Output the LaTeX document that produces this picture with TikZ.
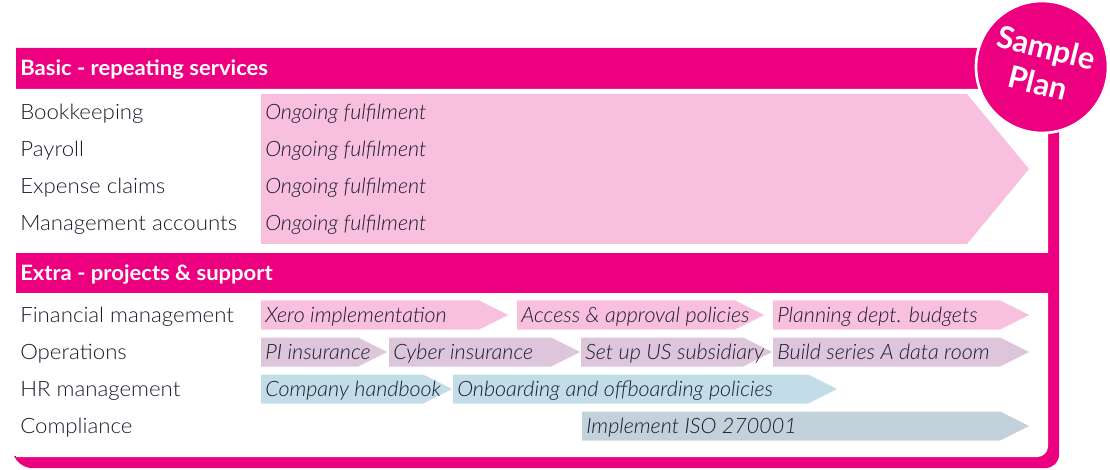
\documentclass[tikz,border=0pt]{standalone}
\usepackage{fontspec}
\setmainfont{Lato Light}[ItalicFont={Lato Light Italic},BoldFont={Lato Bold},FakeStretch=1.05,ItalicFeatures={FakeStretch=1.015}]
\newfontfamily\headfont{Lato Bold}[FakeStretch=1.04]
\newfontfamily\badgefont{Lato Bold}
\definecolor{mag}{HTML}{EC0080}
\definecolor{lpink}{HTML}{F8BFDE}
\definecolor{lav}{HTML}{DDC6DB}
\definecolor{lblue}{HTML}{C3DDE8}
\definecolor{gblue}{HTML}{C3D2DA}
\definecolor{ink}{HTML}{1C1C2C}
\tikzset{
  rowlabel/.style={anchor=base west,inner sep=0pt,text=ink,font=\fontsize{15.9}{18}\selectfont},
  arrtext/.style={anchor=base west,inner sep=0pt,text=ink,font=\fontsize{15.9}{18}\selectfont\itshape},
  headtext/.style={anchor=base west,inner sep=0pt,text=white,font=\fontsize{15.9}{18}\selectfont\headfont},
}
% name, left, tip, centre y, colour, text
\newcommand\chev[6]{%
  \fill[#5] (#2,#4-14.5) -- (#3-29,#4-14.5) -- (#3,#4) -- (#3-29,#4+14.5) -- (#2,#4+14.5) -- cycle;
  \node[arrtext] (#1) at (#2+4,#4+7) {#6};}
\begin{document}
\begin{tikzpicture}[x=0.75pt,y=-0.75pt]
\useasboundingbox (0,0) rectangle (1110,470);
% frame
\fill[mag] (16,48) -- (1059,48) [rounded corners=10] -- (1059,468) [sharp corners] -- (30,468) .. controls (21,466) and (17,462) .. (14,456) -- (16,456) -- cycle;
\fill[white] (16,89) -- (1048,89) [rounded corners=8] -- (1048,457) [sharp corners] -- (16,457) -- cycle;
\fill[mag] (16,253) rectangle (1059,293);
% headers
\node[headtext] (h1) at (20,76) {Basic - repeating services};
\node[headtext] (h2) at (20,281) {Extra - projects \& support};
% big arrow
\fill[lpink] (261,94) -- (967,94) -- (1029,169) -- (967,244) -- (261,244) -- cycle;
\node[rowlabel] (l1) at (20,119.5) {Bookkeeping};
\node[rowlabel] (l2) at (20,156.5) {Payroll};
\node[rowlabel] (l3) at (20,193.5) {Expense claims};
\node[rowlabel] (l4) at (20,230.5) {Management accounts};
\node[arrtext] (o1) at (265,119.5) {Ongoing fulfilment};
\node[arrtext] (o2) at (265,156.5) {Ongoing fulfilment};
\node[arrtext] (o3) at (265,193.5) {Ongoing fulfilment};
\node[arrtext] (o4) at (265,230.5) {Ongoing fulfilment};
% extra rows
\node[rowlabel] (l5) at (20,322.5) {Financial management};
\node[rowlabel] (l6) at (20,359.5) {Operations};
\node[rowlabel] (l7) at (20,396.5) {HR management};
\node[rowlabel] (l8) at (20,433.5) {Compliance};
\chev{xero}{261}{508}{315}{lpink}{Xero implementation}
\chev{access}{517}{764}{315}{lpink}{Access \& approval policies}
\chev{plan}{773}{1029}{315}{lpink}{Planning dept. budgets}
\chev{pi}{261}{387}{352}{lav}{PI insurance}
\chev{cyber}{389}{580}{352}{lav}{Cyber insurance}
\chev{us}{581}{772}{352}{lav}{Set up US subsidiary}
\chev{build}{773}{1029}{352}{lav}{Build series A data room}
\chev{hand}{261}{452}{389}{lblue}{Company handbook}
\chev{onb}{453}{837}{389}{lblue}{Onboarding and offboarding policies}
\chev{iso}{582}{1029}{426}{gblue}{Implement ISO 270001}
% badge
\node[circle,fill=mag,draw=white,line width=2pt,minimum size=99pt,inner sep=0pt] (badge) at (1042,67) {};
\node[rotate=-14,text=white,inner sep=0pt,font=\fontsize{23}{24}\selectfont\badgefont] (sample) at (1046,50) {Sample};
\node[rotate=-14,text=white,inner sep=0pt,font=\fontsize{23}{24}\selectfont\badgefont] (plantxt) at (1038,83) {Plan};
\end{tikzpicture}
\end{document}
